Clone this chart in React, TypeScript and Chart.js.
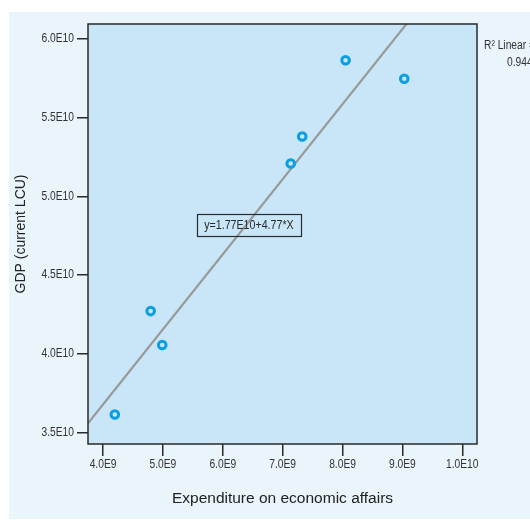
import { useEffect, useRef } from "react";
import { Chart, registerables } from "chart.js";

Chart.register(...registerables);

// ---- data ----
const EXPENDITURE = [4.197e9, 4.796e9, 4.989e9, 7.135e9, 7.327e9, 8.051e9, 9.031e9];
const GDP = [3.614e10, 4.271e10, 4.055e10, 5.209e10, 5.38e10, 5.865e10, 5.747e10];
const X_TICKS = [4e9, 5e9, 6e9, 7e9, 8e9, 9e9, 1e10];
const Y_TICKS = [3.5e10, 4.0e10, 4.5e10, 5.0e10, 5.5e10, 6.0e10];
const X_RANGE = [3.749e9, 10.246e9];
const Y_RANGE = [3.4263e10, 6.0953e10];
const FIT_INTERCEPT = 1.77e10;
const FIT_SLOPE = 4.77;
const R2_LINEAR = 0.944;
const X_TITLE = "Expenditure on economic affairs";
const Y_TITLE = "GDP (current LCU)";

const SANS = "'Liberation Sans', Arial, 'DejaVu Sans', sans-serif";
const NARROW_SCALE = 0.82; // emulate Arial Narrow

const sci = (v: number, digits = 1) => {
  const e = Math.floor(Math.log10(Math.abs(v)) + 1e-9);
  const m = v / Math.pow(10, e);
  return m.toFixed(digits) + "E" + e;
};

const EQ_TEXT = `y=${sci(FIT_INTERCEPT, 2)}+${FIT_SLOPE.toFixed(2)}*X`;

function narrowText(
  ctx: CanvasRenderingContext2D,
  text: string,
  x: number,
  y: number,
  size: number,
  align: CanvasTextAlign,
  color = "#333"
) {
  ctx.save();
  ctx.font = `${size}px ${SANS}`;
  ctx.fillStyle = color;
  ctx.textAlign = align;
  ctx.textBaseline = "middle";
  ctx.scale(NARROW_SCALE, 1);
  ctx.fillText(text, x / NARROW_SCALE, y);
  ctx.restore();
}

const decor = {
  id: "decor",
  beforeDraw(chart: any) {
    const ctx = chart.ctx;
    const { left, top, right, bottom } = chart.chartArea;
    ctx.save();
    ctx.fillStyle = "#EAF4FB";
    ctx.fillRect(9, 12, chart.width - 9, 507);
    ctx.fillStyle = "#C8E6F7";
    ctx.fillRect(left, top, right - left, bottom - top);
    ctx.restore();
  },
  afterDatasetsDraw(chart: any) {
    const ctx = chart.ctx;
    const { left, top, right, bottom } = chart.chartArea;
    const xs = chart.scales.x;
    const ys = chart.scales.y;
    ctx.save();
    // plot frame
    ctx.strokeStyle = "#2a2a2a";
    ctx.lineWidth = 1.5;
    ctx.strokeRect(left, top, right - left, bottom - top);

    // tick labels (narrow face)
    xs.ticks.forEach((t: any) => {
      narrowText(ctx, sci(t.value), xs.getPixelForValue(t.value), bottom + 21, 12.5, "center");
    });
    ys.ticks.forEach((t: any) => {
      narrowText(ctx, sci(t.value), left - 14, ys.getPixelForValue(t.value), 12.5, "right");
    });

    // equation box
    const cx = xs.getPixelForValue(6.437e9);
    const cy = ys.getPixelForValue(4.82e10);
    ctx.font = `13px ${SANS}`;
    const tw = ctx.measureText(EQ_TEXT).width * NARROW_SCALE;
    const bw = Math.round(tw + 14);
    const bh = 22;
    ctx.lineWidth = 1.2;
    ctx.strokeStyle = "#2a2a2a";
    ctx.strokeRect(Math.round(cx - bw / 2) + 0.5, Math.round(cy - bh / 2) + 0.5, bw, bh);
    narrowText(ctx, EQ_TEXT, cx, cy + 1, 13, "center", "#2a2a2a");

    // R² annotation
    narrowText(ctx, "R² Linear =", 484, 46, 12.5, "left");
    narrowText(ctx, R2_LINEAR.toFixed(3), 507, 63, 12.5, "left");
    ctx.restore();
  },
};

export default function App() {
  const ref = useRef<HTMLCanvasElement | null>(null);

  useEffect(() => {
    if (!ref.current) return;
    const fitData = X_RANGE.map((x) => ({ x, y: FIT_INTERCEPT + FIT_SLOPE * x }));
    const chart = new Chart(ref.current, {
      type: "scatter",
      data: {
        datasets: [
          {
            label: "GDP",
            data: EXPENDITURE.map((x, i) => ({ x, y: GDP[i] })),
            pointRadius: 3.8,
            pointBorderWidth: 3,
            borderColor: "#0B9FE2",
            backgroundColor: "rgba(0,0,0,0)",
            pointStyle: "circle",
          },
          {
            type: "line",
            label: "Fit",
            data: fitData,
            borderColor: "#999999",
            borderWidth: 2.2,
            pointRadius: 0,
            fill: false,
          } as any,
        ],
      },
      options: {
        responsive: false,
        animation: false,
        devicePixelRatio: 1,
        layout: { padding: { left: 0, top: 24, right: 53, bottom: 0 } },
        plugins: {
          legend: { display: false },
          tooltip: { enabled: false },
        },
        scales: {
          x: {
            type: "linear",
            min: X_RANGE[0],
            max: X_RANGE[1],
            afterBuildTicks: (s: any) => {
              s.ticks = X_TICKS.map((value) => ({ value }));
            },
            afterFit: (s: any) => {
              s.height = 84;
            },
            border: { display: false },
            grid: {
              drawOnChartArea: false,
              drawTicks: true,
              tickLength: 12,
              color: "#2a2a2a",
              lineWidth: 1.5,
            },
            ticks: { display: false },
            title: {
              display: true,
              text: X_TITLE,
              color: "#222",
              font: { family: SANS, size: 15.5 },
              padding: { top: 20, bottom: 20 },
            },
          },
          y: {
            type: "linear",
            min: Y_RANGE[0],
            max: Y_RANGE[1],
            afterBuildTicks: (s: any) => {
              s.ticks = Y_TICKS.map((value) => ({ value }));
            },
            afterFit: (s: any) => {
              s.width = 88;
            },
            border: { display: false },
            grid: {
              drawOnChartArea: false,
              drawTicks: true,
              tickLength: 11,
              color: "#2a2a2a",
              lineWidth: 1.5,
            },
            ticks: { display: false },
            title: {
              display: true,
              text: Y_TITLE,
              color: "#222",
              font: { family: SANS, size: 14 },
              padding: { top: 13, bottom: 13 },
            },
          },
        },
      },
      plugins: [decor],
    });
    return () => chart.destroy();
  }, []);

  return (
    <div style={{ position: "absolute", left: 0, top: 0, width: 530, height: 528 }}>
      <canvas ref={ref} width={530} height={528} style={{ display: "block" }} />
    </div>
  );
}
